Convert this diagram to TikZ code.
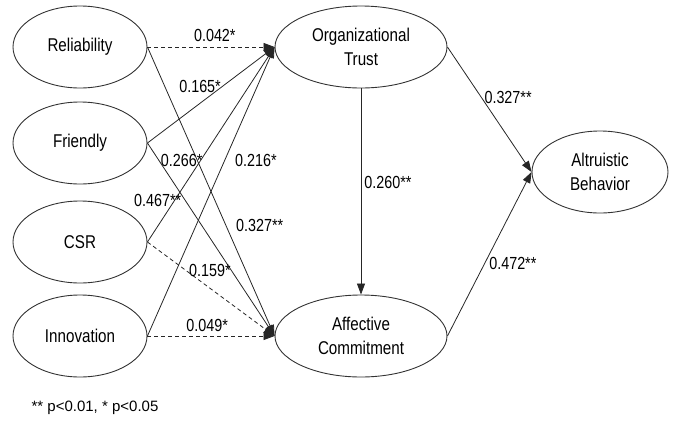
\documentclass[tikz,border=0pt]{standalone}
\usepackage{fontspec}
\setmainfont{Liberation Sans}[FakeStretch=0.82]
\newfontfamily\notefont{Liberation Sans}
\usetikzlibrary{arrows.meta,shapes.geometric}
\tikzset{
	construct/.style={draw=black!80, ellipse, line width=0.9pt, minimum width=134pt, minimum height=82pt, inner sep=0pt, align=center, font=\fontsize{18.5}{24}\selectfont},
	effect/.style={draw=black!85, line width=0.8pt, -{Triangle[length=11pt,width=8pt]}},
	weak/.style={effect, dash pattern=on 4pt off 3pt},
	coef/.style={font=\fontsize{17.5}{20}\selectfont, inner sep=0pt}
}
\begin{document}
\begin{tikzpicture}[x=1pt, y=-1pt]
		\useasboundingbox (0,0) rectangle (673,421);
		
		% antecedents
		\node[construct] (rel) at (80,47) {Reliability};
		\node[construct] (friend) at (80,143) {Friendly};
		\node[construct] (csr) at (80,242) {CSR};
		\node[construct] (innov) at (80,336) {Innovation};
		
		% mediators and outcome
		\node[construct, minimum width=172pt] (trust) at (361,47) {Organizational\\Trust};
		\node[construct, minimum width=172pt] (commit) at (361,336) {Affective\\Commitment};
		\node[construct, minimum width=136pt] (altru) at (600,172) {Altruistic\\Behavior};
		
		\draw[weak] (rel.east) -- (trust.west) node[coef, pos=0.53, yshift=12pt] {0.042*};
		\draw[effect] (rel.east) -- (commit.west) node[coef, pos=0.616, xshift=34pt] {0.327**};
		\draw[effect] (friend.east) -- (trust.west) node[coef, pos=0.414, yshift=17pt] {0.165*};
		\draw[effect] (friend.east) -- (commit.west) node[coef, pos=0.088, xshift=23pt] {0.266*};
		\draw[effect] (csr.east) -- (trust.west) node[coef, pos=0.215, xshift=-17pt] {0.467**};
		\draw[weak] (csr.east) -- (commit.west) node[coef, pos=0.492, yshift=18pt] {0.159*};
		\draw[effect] (innov.east) -- (trust.west) node[coef, pos=0.609, xshift=31pt] {0.216*};
		\draw[weak] (innov.east) -- (commit.west) node[coef, pos=0.47, yshift=11pt] {0.049*};
		
		\draw[effect] (trust.south) -- (commit.north) node[coef, pos=0.454, xshift=27pt] {0.260**};
		\draw[effect] (trust.east) -- (altru.west) node[coef, pos=0.4, xshift=27pt] {0.327**};
		\draw[effect] (commit.east) -- (altru.west) node[coef, pos=0.445, xshift=28pt] {0.472**};
		
		\node[font=\notefont\fontsize{15}{18}\selectfont] (note) at (95,408) {** p<0.01, * p<0.05};
\end{tikzpicture}
\end{document}
